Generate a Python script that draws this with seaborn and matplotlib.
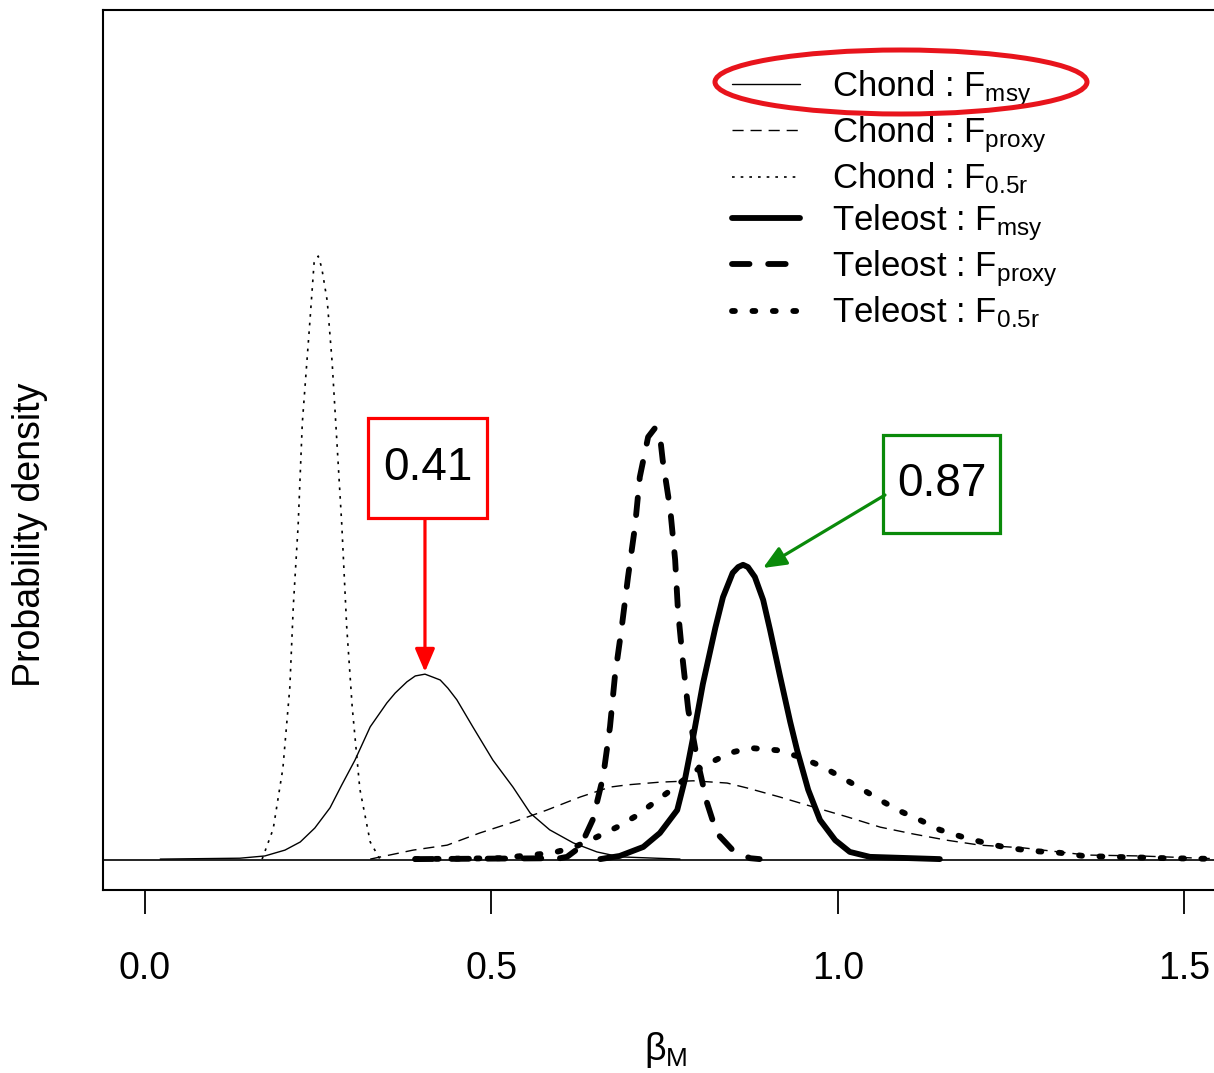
import numpy as np
import pandas as pd
import matplotlib
matplotlib.use("Agg")
import matplotlib.pyplot as plt
import seaborn as sns
from matplotlib.patches import Ellipse, Rectangle
from matplotlib import font_manager

# ---------------- data ----------------
# beta_M values and probability density values for each posterior
chond_msy_x = [0.022, 0.137, 0.173, 0.202, 0.224, 0.245, 0.267, 0.284, 0.303, 0.325, 0.349,
               0.361, 0.378, 0.390, 0.404, 0.416, 0.426, 0.437, 0.450, 0.473, 0.502, 0.531,
               0.556, 0.584, 0.618, 0.652, 0.685, 0.772]
chond_msy_y = [0.02, 0.04, 0.09, 0.22, 0.40, 0.71, 1.16, 1.67, 2.22, 2.96, 3.49,
               3.71, 3.96, 4.09, 4.13, 4.06, 4.00, 3.82, 3.56, 2.96, 2.22, 1.62,
               1.04, 0.67, 0.38, 0.18, 0.07, 0.02]

chond_proxy_x = [0.325, 0.387, 0.436, 0.483, 0.531, 0.580, 0.628, 0.671, 0.696, 0.743, 0.791,
                 0.840, 0.869, 0.916, 0.964, 1.013, 1.061, 1.108, 1.157, 1.205, 1.267, 1.359,
                 1.436, 1.522, 1.566]
chond_proxy_y = [0.02, 0.22, 0.33, 0.60, 0.84, 1.11, 1.40, 1.62, 1.67, 1.73, 1.76,
                 1.71, 1.60, 1.40, 1.18, 0.96, 0.73, 0.58, 0.44, 0.33, 0.27, 0.11,
                 0.09, 0.04, 0.02]

chond_half_x = [0.169, 0.185, 0.199, 0.209, 0.214, 0.221, 0.227, 0.238, 0.244, 0.250, 0.255,
                0.263, 0.270, 0.277, 0.284, 0.291, 0.299, 0.310, 0.325, 0.339]
chond_half_y = [0.02, 0.69, 2.04, 3.84, 5.64, 7.44, 9.71, 11.98, 13.27, 13.42, 13.16,
                12.42, 11.07, 9.27, 7.44, 5.20, 3.40, 1.58, 0.40, 0.02]

tele_msy_x = [0.657, 0.685, 0.719, 0.743, 0.768, 0.779, 0.791, 0.805, 0.823, 0.834, 0.848,
              0.856, 0.863, 0.870, 0.880, 0.892, 0.902, 0.916, 0.931, 0.941, 0.957, 0.974,
              0.996, 1.017, 1.046, 1.147]
tele_msy_y = [0.02, 0.09, 0.29, 0.60, 1.11, 1.78, 2.73, 3.91, 5.16, 5.84, 6.38,
              6.51, 6.56, 6.51, 6.29, 5.78, 5.11, 4.11, 3.07, 2.44, 1.56, 0.89,
              0.44, 0.18, 0.07, 0.02]

tele_proxy_x = [0.390, 0.599, 0.609, 0.628, 0.646, 0.661, 0.671, 0.678, 0.688, 0.697, 0.707,
                0.714, 0.726, 0.736, 0.743, 0.747, 0.758, 0.765, 0.769, 0.776, 0.784, 0.797,
                0.811, 0.825, 0.848, 0.873, 0.887]
tele_proxy_y = [0.02, 0.04, 0.07, 0.29, 0.89, 1.84, 2.96, 4.07, 5.18, 6.29, 7.40,
                8.51, 9.40, 9.60, 9.44, 8.89, 7.78, 6.67, 5.56, 4.44, 3.33, 2.22,
                1.27, 0.60, 0.22, 0.04, 0.02]

tele_half_x = [0.390, 0.512, 0.589, 0.620, 0.652, 0.681, 0.711, 0.739, 0.765, 0.791, 0.818,
               0.844, 0.873, 0.912, 0.945, 0.978, 1.007, 1.032, 1.061, 1.089, 1.118, 1.147,
               1.180, 1.212, 1.245, 1.281, 1.320, 1.354, 1.397, 1.475, 1.566]
tele_half_y = [0.02, 0.04, 0.16, 0.29, 0.51, 0.73, 1.00, 1.33, 1.62, 1.96, 2.18,
               2.38, 2.49, 2.44, 2.29, 2.07, 1.82, 1.60, 1.33, 1.09, 0.89, 0.67,
               0.51, 0.38, 0.27, 0.20, 0.16, 0.09, 0.07, 0.04, 0.02]

groups = ["Chond", "Chond", "Chond", "Teleost", "Teleost", "Teleost"]
refs = ["msy", "proxy", "0.5r", "msy", "proxy", "0.5r"]

x_ticks = [0.0, 0.5, 1.0, 1.5]
x_tick_labels = ["0.0", "0.5", "1.0", "1.5"]

mode_chond = 0.41
mode_tele = 0.87
mode_chond_density = 4.13
mode_tele_density = 6.56

# ---------------- styling ----------------
sns.set_theme(style="white")
plt.rcParams["font.family"] = ["Liberation Sans", "DejaVu Sans"]
plt.rcParams["mathtext.default"] = "regular"
plt.rcParams["text.color"] = "black"
plt.rcParams["xtick.color"] = "black"
plt.rcParams["axes.labelcolor"] = "black"

names = {f.name for f in font_manager.fontManager.ttflist}
narrow = "Liberation Sans Narrow" if "Liberation Sans Narrow" in names else "Liberation Sans"

W, H = 1214, 1073
fig = plt.figure(figsize=(W / 100, H / 100), dpi=100)
ax_left, ax_right, ax_top, ax_bot = 103, 1254, 10, 890
ax = fig.add_axes([ax_left / W, (H - ax_bot) / H, (ax_right - ax_left) / W, (ax_bot - ax_top) / H])

series = [
    (chond_msy_x, chond_msy_y, 1.0, None),
    (chond_proxy_x, chond_proxy_y, 1.0, (8, 5)),
    (chond_half_x, chond_half_y, 1.2, (1.6, 3.6)),
    (tele_msy_x, tele_msy_y, 4.2, None),
    (tele_proxy_x, tele_proxy_y, 4.2, (3.0, 3.2)),
    (tele_half_x, tele_half_y, 4.2, (0.5, 3.0)),
]

for (xs, ys, lw, dash), g, r in zip(series, groups, refs):
    label = f"{g} : $F_{{{r}}}$"
    df = pd.DataFrame({"x": xs, "y": ys})
    kw = dict(color="black", linewidth=lw, label=label, estimator=None, sort=False,
              solid_capstyle="round", dash_capstyle="round" if lw > 2 else "butt",
              solid_joinstyle="round", dash_joinstyle="round")
    if dash is not None:
        kw["dashes"] = dash
    sns.lineplot(data=df, x="x", y="y", ax=ax, **kw)

ax.axhline(0, color="black", linewidth=1.2, zorder=1)

ax.set_xlim(-0.0606, (ax_right - 145) / 693)
ax.set_ylim(-30 / 45, 850 / 45)
ax.set_xticks(x_ticks)
ax.set_xticklabels(x_tick_labels, fontsize=27)
ax.set_yticks([])
ax.tick_params(axis="x", direction="out", length=17, width=1.3, pad=27, colors="black",
               bottom=True)
for s in ["left", "top", "bottom", "right"]:
    ax.spines[s].set_color("black")
    ax.spines[s].set_linewidth(1.5)
ax.set_xlabel("")
ax.set_ylabel("")

# legend
leg = ax.legend(loc="upper left",
                bbox_to_anchor=((732 - ax_left) / (ax_right - ax_left), (ax_bot - 68) / (ax_bot - ax_top)),
                frameon=False, fontsize=25, handlelength=1.96, handletextpad=0.92,
                labelspacing=0.16, borderpad=0, borderaxespad=0)
for t in leg.get_texts():
    t.set_color("black")

# axis titles
fig.text(30 / W, 1 - 535 / H, "Probability density", rotation=90, ha="center", va="center",
         fontsize=27, family=narrow)
fig.text(666 / W, 1 - 1050 / H, r"$\mathregular{β_M}$", ha="center", va="center", fontsize=27)

# annotation boxes
def px2data(px, py):
    return (px - 145) / 693, (860 - py) / 45

red = "#ff0000"
green = "#0a8a0a"
x0, y0 = px2data(368, 518)
x1, y1 = px2data(487, 418)
ax.add_patch(Rectangle((x0, y0), x1 - x0, y1 - y0, fill=True, facecolor="white",
                       edgecolor=red, linewidth=2.3, zorder=5))
ax.text((x0 + x1) / 2, (y0 + y1) / 2, f"{mode_chond:.2f}", ha="center", va="center",
        fontsize=33, zorder=6, color="black")
ax.annotate("", xy=(mode_chond - 0.006, mode_chond_density + 0.05), xytext=(mode_chond - 0.006, y0 - 0.05),
            arrowprops=dict(arrowstyle="-|>,head_length=0.7,head_width=0.3", color=red,
                            lw=2.3, mutation_scale=20, shrinkA=0, shrinkB=0), zorder=6)

x0, y0 = px2data(883, 533)
x1, y1 = px2data(1000, 435)
ax.add_patch(Rectangle((x0, y0), x1 - x0, y1 - y0, fill=True, facecolor="white",
                       edgecolor=green, linewidth=2.3, zorder=5))
ax.text((x0 + x1) / 2, (y0 + y1) / 2, f"{mode_tele:.2f}", ha="center", va="center",
        fontsize=33, zorder=6, color="black")
ax.annotate("", xy=px2data(763, 568), xytext=px2data(885, 495),
            arrowprops=dict(arrowstyle="-|>,head_length=0.7,head_width=0.3", color=green,
                            lw=2.3, mutation_scale=20, shrinkA=0, shrinkB=0), zorder=6)

# red ellipse around first legend entry
fig.add_artist(Ellipse((901 / W, 1 - 82 / H), 372 / W, 64 / H, transform=fig.transFigure,
                       fill=False, edgecolor="#e8141c", linewidth=3.6, zorder=10))

fig.savefig("out.png", dpi=100)
